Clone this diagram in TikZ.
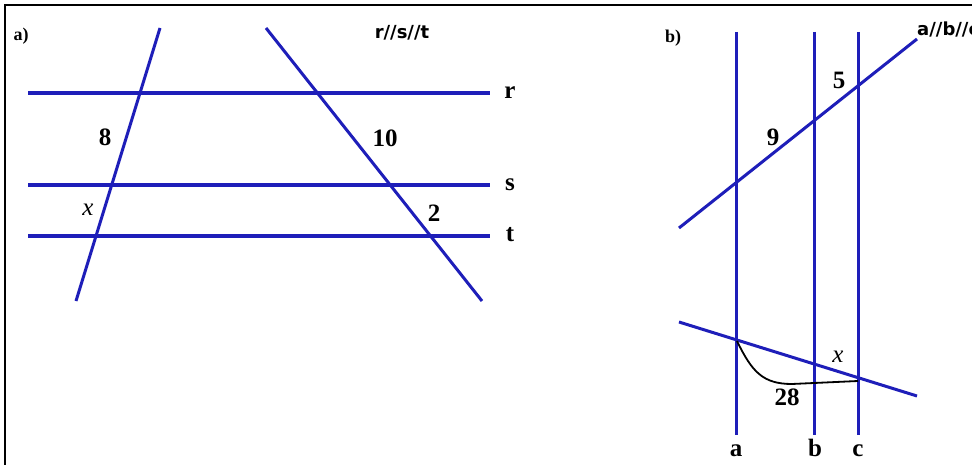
\documentclass[tikz,border=0pt]{standalone}
\usepackage{fontspec}
\setmainfont{Liberation Serif}
\setsansfont{DejaVu Sans}
\usetikzlibrary{positioning}
\definecolor{lineblue}{RGB}{30,30,185}

\begin{document}
\begin{tikzpicture}[x=1pt,y=-1pt,
    parline/.style={draw=lineblue,line width=4pt},
    transline/.style={draw=lineblue,line width=3pt},
    num/.style={font=\fontsize{25}{25}\selectfont\bfseries,inner sep=0pt},
    var/.style={font=\fontsize{25}{25}\selectfont\itshape,inner sep=0pt},
    part/.style={font=\fontsize{18}{18}\selectfont\bfseries,inner sep=0pt},
    relation/.style={font=\sffamily\fontsize{18}{18}\selectfont\bfseries,inner sep=0pt}]
    \useasboundingbox (0,0) rectangle (972,465);
    \clip (0,0) rectangle (972,465);
    % frame
    \draw[line width=2pt] (5,465) -- (5,5) -- (972,5);

    % a) three parallels r, s, t
    \node[part] (parta) at (21,36) {a)};
    \node[relation] (rst) at (402,33) {r//s//t};
    \coordinate (r0) at (28,93);  \coordinate (r1) at (490,93);
    \coordinate (s0) at (28,185); \coordinate (s1) at (490,185);
    \coordinate (t0) at (28,236); \coordinate (t1) at (490,236);
    \draw[parline] (r0) -- (r1);
    \draw[parline] (s0) -- (s1);
    \draw[parline] (t0) -- (t1);
    \node[num,anchor=base] (labr) at (510,99) {r};
    \node[num,anchor=base] (labs) at (510,191) {s};
    \node[num,anchor=base] (labt) at (510,242) {t};
    \coordinate (p0) at (160,28); \coordinate (p1) at (76,301);
    \coordinate (q0) at (266,28); \coordinate (q1) at (482,301);
    \draw[transline] (p0) -- (p1);
    \draw[transline] (q0) -- (q1);
    \node[num] (eight) at (105,137) {8};
    \node[var] (xa) at (88,210) {x};
    \node[num] (ten) at (385,138) {10};
    \node[num] (two) at (434,213) {2};

    % b) three parallels a, b, c
    \node[part] (partb) at (673,38) {b)};
    \node[relation,anchor=west] (abc) at (917,29) {a//b//c};
    \coordinate (a0) at (736,32); \coordinate (a1) at (736,435);
    \coordinate (b0) at (814,32); \coordinate (b1) at (814,435);
    \coordinate (c0) at (858,32); \coordinate (c1) at (858,435);
    \draw[transline] (a0) -- (a1);
    \draw[transline] (b0) -- (b1);
    \draw[transline] (c0) -- (c1);
    \node[num,anchor=base] (laba) at (736,456) {a};
    \node[num,anchor=base] (labb) at (815,456) {b};
    \node[num,anchor=base] (labc) at (858,456) {c};
    \coordinate (u0) at (679,228); \coordinate (u1) at (917,39);
    \coordinate (l0) at (679,322); \coordinate (l1) at (917,396);
    \draw[transline] (u0) -- (u1);
    \draw[transline] (l0) -- (l1);
    \node[num] (five) at (839,80) {5};
    \node[num] (nine) at (773,137) {9};
    \node[var] (xb) at (838,357) {x};
    \coordinate (la) at (737,341);
    \coordinate (lc) at (858,381);
    \draw[line width=1.8pt] (la) .. controls (752,372) and (763,384) .. (792,384) -- (lc);
    \node[num] (twentyeight) at (787,397) {28};
\end{tikzpicture}
\end{document}
